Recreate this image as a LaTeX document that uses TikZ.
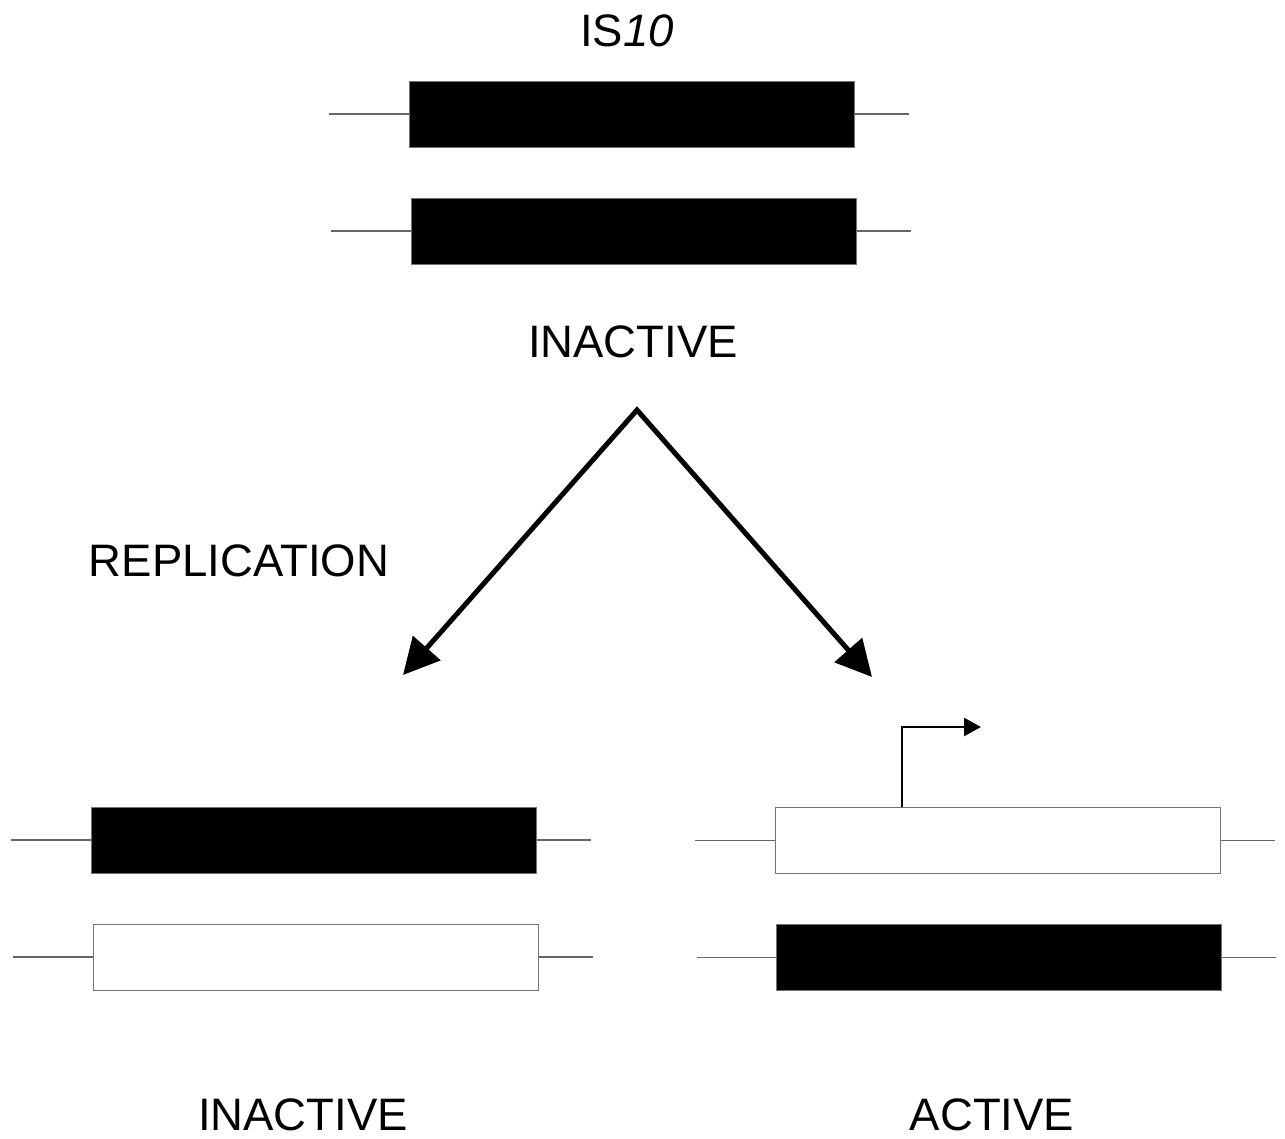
\documentclass[tikz,border=0pt]{standalone}
\usepackage{fontspec}
\setmainfont{Liberation Sans}
\usetikzlibrary{arrows.meta}
\begin{document}
\begin{tikzpicture}[x=1pt,y=-1pt,
  lbl/.style={inner sep=0pt,anchor=base,font=\fontsize{45.5}{50}\selectfont},
  isbox/.style={rectangle,minimum width=445pt,minimum height=66pt,inner sep=0pt,draw=black!55,line width=1pt},
  onbox/.style={isbox,fill=black},
  offbox/.style={isbox,fill=white},
  dna/.style={draw=black!60,line width=1.3pt},
  bigarrow/.style={line width=5pt,line join=miter,{Triangle[length=36pt,width=36pt]}-{Triangle[length=36pt,width=36pt]}},
  promarrow/.style={line width=2.7pt,line join=miter,-{Triangle[length=17pt,width=18pt]}}]
\useasboundingbox (0,0) rectangle (1285,1138);
% labels
\node[lbl] (is10) at (627,46) {IS\textit{10}};
\node[lbl] (inact1) at (633,357) {INACTIVE};
\node[lbl] (repl) at (239,576) {REPLICATION};
\node[lbl] (inact2) at (303,1130) {INACTIVE};
\node[lbl] (act) at (992,1130) {ACTIVE};
% top pair
\node[onbox] (t1) at (631.5,114) {};
\node[onbox] (t2) at (633.5,231) {};
\coordinate (t1l) at (329,114); \coordinate (t1r) at (909,114);
\coordinate (t2l) at (331,231); \coordinate (t2r) at (911,231);
\draw[dna] (t1l) -- (t1.west); \draw[dna] (t1.east) -- (t1r);
\draw[dna] (t2l) -- (t2.west); \draw[dna] (t2.east) -- (t2r);
% bottom left pair
\node[onbox] (bl1) at (313.5,840) {};
\node[offbox] (bl2) at (315.5,957) {};
\coordinate (bl1l) at (11,840); \coordinate (bl1r) at (591,840);
\coordinate (bl2l) at (13,957); \coordinate (bl2r) at (593,957);
\draw[dna] (bl1l) -- (bl1.west); \draw[dna] (bl1.east) -- (bl1r);
\draw[dna] (bl2l) -- (bl2.west); \draw[dna] (bl2.east) -- (bl2r);
% bottom right pair
\node[offbox] (br1) at (997.5,840.5) {};
\node[onbox] (br2) at (998.5,957.5) {};
\coordinate (br1l) at (695,840.5); \coordinate (br1r) at (1275,840.5);
\coordinate (br2l) at (697,957.5); \coordinate (br2r) at (1276,957.5);
\draw[dna] (br1l) -- (br1.west); \draw[dna] (br1.east) -- (br1r);
\draw[dna] (br2l) -- (br2.west); \draw[dna] (br2.east) -- (br2r);
% promoter
\coordinate (pcorner) at (902,727);
\coordinate (ptip) at (981,727);
\draw[promarrow] (br1.north -| pcorner) -- (pcorner) -- (ptip);
% replication arrows
\coordinate (apex) at (637,410);
\coordinate (ltip) at (403,675);
\coordinate (rtip) at (872,677);
\draw[bigarrow] (ltip) -- (apex) -- (rtip);
\end{tikzpicture}
\end{document}
